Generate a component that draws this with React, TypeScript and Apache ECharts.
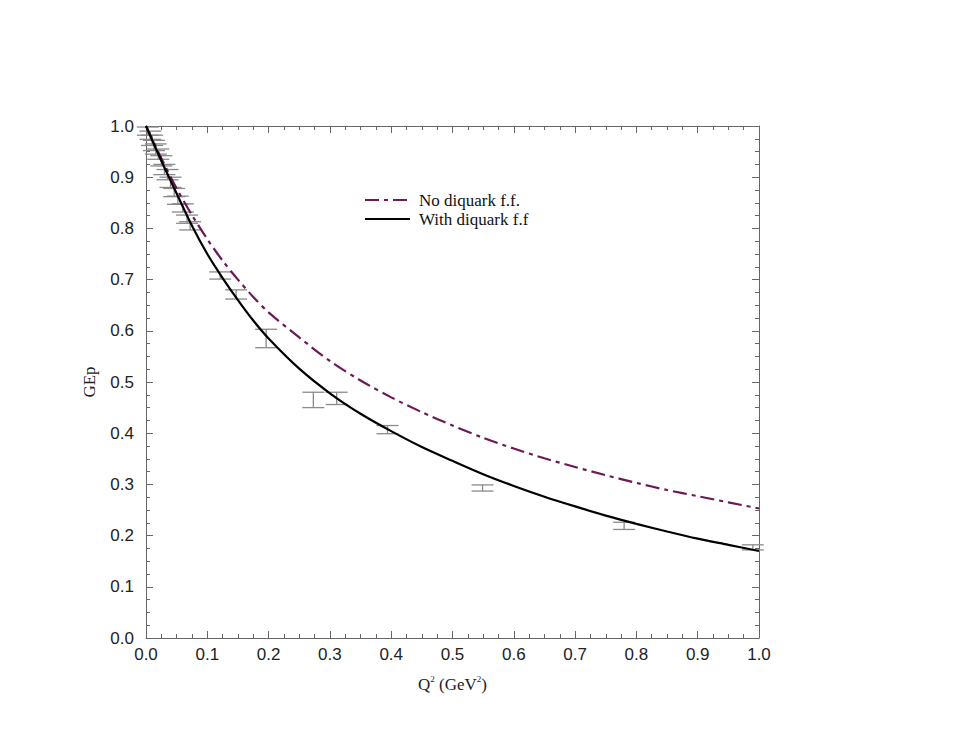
import React, { useEffect, useRef } from "react";
import * as echarts from "echarts";

const xTicks = ["0.0", "0.1", "0.2", "0.3", "0.4", "0.5", "0.6", "0.7", "0.8", "0.9", "1.0"];

// "No diquark f.f." curve (x, GEp)
const noDiquarkX = [0, 0.025, 0.05, 0.075, 0.1, 0.125, 0.15, 0.175, 0.2, 0.25, 0.3, 0.35, 0.4, 0.45, 0.5, 0.55, 0.6, 0.65, 0.7, 0.75, 0.8, 0.85, 0.9, 0.95, 1.0];
const noDiquarkY = [1.0, 0.937, 0.878, 0.826, 0.779, 0.737, 0.7, 0.666, 0.636, 0.587, 0.541, 0.503, 0.47, 0.441, 0.415, 0.391, 0.37, 0.351, 0.334, 0.318, 0.303, 0.289, 0.277, 0.265, 0.253];

// "With diquark f.f" curve
const withDiquarkX = [0, 0.025, 0.05, 0.075, 0.1, 0.125, 0.15, 0.175, 0.2, 0.25, 0.3, 0.35, 0.4, 0.45, 0.5, 0.55, 0.6, 0.65, 0.7, 0.75, 0.8, 0.85, 0.9, 0.95, 1.0];
const withDiquarkY = [1.0, 0.932, 0.868, 0.805, 0.75, 0.703, 0.66, 0.62, 0.585, 0.526, 0.478, 0.438, 0.404, 0.373, 0.346, 0.32, 0.297, 0.276, 0.257, 0.239, 0.223, 0.208, 0.194, 0.182, 0.17];

// experimental points: Q2, GEp, error
const dataQ2 = [0.003, 0.007, 0.01, 0.013, 0.016, 0.02, 0.025, 0.03, 0.035, 0.04, 0.046, 0.052, 0.06, 0.067, 0.072, 0.121, 0.147, 0.196, 0.273, 0.311, 0.394, 0.549, 0.78, 0.99];
const dataGEp = [0.99, 0.982, 0.972, 0.962, 0.955, 0.945, 0.932, 0.915, 0.905, 0.89, 0.87, 0.855, 0.84, 0.818, 0.805, 0.708, 0.671, 0.585, 0.465, 0.468, 0.407, 0.293, 0.219, 0.177];
const dataErr = [0.008, 0.008, 0.01, 0.01, 0.01, 0.01, 0.01, 0.01, 0.01, 0.01, 0.008, 0.008, 0.008, 0.008, 0.008, 0.007, 0.009, 0.018, 0.015, 0.012, 0.008, 0.006, 0.007, 0.005];

const PURPLE = "#6b1a55";
const AXIS = "#666";

export default function App() {
  const ref = useRef<HTMLDivElement>(null);
  useEffect(() => {
    if (!ref.current) return;
    const chart = echarts.init(ref.current, null, { renderer: "svg" });
    const errData = dataQ2.map((x, i) => [x, dataGEp[i] - dataErr[i], dataGEp[i] + dataErr[i]]);
    const commonTick = {
      axisLine: { show: true, onZero: false, lineStyle: { color: AXIS, width: 1 } },
      axisTick: { show: true, inside: true, length: 7, lineStyle: { color: AXIS } },
      minorTick: { show: true, splitNumber: 4, length: 4, lineStyle: { color: AXIS } },
      splitLine: { show: false },
    };
    chart.setOption({
      animation: false,
      grid: { left: 146, right: 210, top: 126, bottom: 111, containLabel: false },
      xAxis: [
        {
          type: "value", min: 0, max: 1, interval: 0.1, position: "bottom",
          ...commonTick,
          axisLabel: {
            formatter: (v: number) => xTicks[Math.round(v * 10)],
            fontFamily: "Liberation Sans, Arial, sans-serif", fontSize: 17, color: "#222", margin: 8,
          },
          name: "{a|Q}{s|2}{a| (GeV}{s|2}{a|)}",
          nameLocation: "middle", nameGap: 36,
          nameTextStyle: {
            rich: {
              a: { fontFamily: "Liberation Serif, Times New Roman, serif", fontSize: 17, color: "#222", lineHeight: 20 },
              s: { fontFamily: "Liberation Serif, Times New Roman, serif", fontSize: 9, color: "#222", padding: [0, 0, 10, 0], lineHeight: 20 },
            },
          },
        },
        {
          type: "value", min: 0, max: 1, interval: 0.1, position: "top",
          ...commonTick, axisLabel: { show: false },
        },
      ],
      yAxis: [
        {
          type: "value", min: 0, max: 1, interval: 0.1, position: "left",
          ...commonTick,
          axisLabel: {
            formatter: (v: number) => xTicks[Math.round(v * 10)],
            fontFamily: "Liberation Sans, Arial, sans-serif", fontSize: 17, color: "#222", margin: 12,
          },
          name: "GEp", nameLocation: "middle", nameGap: 48, nameRotate: 90,
          nameTextStyle: { fontFamily: "Liberation Serif, Times New Roman, serif", fontSize: 17, color: "#222" },
        },
        {
          type: "value", min: 0, max: 1, interval: 0.1, position: "right",
          ...commonTick, axisLabel: { show: false },
        },
      ],
      series: [
        {
          type: "custom",
          name: "data",
          xAxisIndex: 0, yAxisIndex: 0,
          data: errData,
          encode: { x: 0, y: [1, 2] },
          renderItem: (params: any, api: any) => {
            const x = api.value(0);
            const lo = api.coord([x, api.value(1)]);
            const hi = api.coord([x, api.value(2)]);
            const hw = 11;
            const style = { stroke: "#8a8a8a", lineWidth: 1.3 };
            return {
              type: "group",
              children: [
                { type: "line", shape: { x1: hi[0], y1: hi[1], x2: lo[0], y2: lo[1] }, style },
                { type: "line", shape: { x1: hi[0] - hw, y1: hi[1], x2: hi[0] + hw, y2: hi[1] }, style },
                { type: "line", shape: { x1: lo[0] - hw, y1: lo[1], x2: lo[0] + hw, y2: lo[1] }, style },
              ],
            };
          },
          z: 1,
        },
        {
          type: "line", name: "No diquark f.f.",
          data: noDiquarkX.map((x, i) => [x, noDiquarkY[i]]),
          smooth: 0.3, showSymbol: false, symbol: "none",
          lineStyle: { color: PURPLE, width: 2.2, type: [14, 5, 4, 5] },
          z: 3,
        },
        {
          type: "line", name: "With diquark f.f",
          data: withDiquarkX.map((x, i) => [x, withDiquarkY[i]]),
          smooth: 0.3, showSymbol: false, symbol: "none",
          lineStyle: { color: "#000", width: 2.2 },
          z: 4,
        },
      ],
      graphic: [
        { type: "line", shape: { x1: 365, y1: 200, x2: 410, y2: 200 }, style: { stroke: PURPLE, lineWidth: 2.2, lineDash: [14, 5, 4, 5] } },
        { type: "text", x: 419, y: 200, style: { text: "No diquark f.f.", font: "17px 'Liberation Serif', 'Times New Roman', serif", fill: "#111", verticalAlign: "middle" } },
        { type: "line", shape: { x1: 365, y1: 219, x2: 410, y2: 219 }, style: { stroke: "#000", lineWidth: 2.2 } },
        { type: "text", x: 419, y: 219, style: { text: "With diquark f.f", font: "17px 'Liberation Serif', 'Times New Roman', serif", fill: "#111", verticalAlign: "middle" } },
      ],
    });
    return () => chart.dispose();
  }, []);
  return <div ref={ref} style={{ width: 969, height: 749, position: "absolute", left: 0, top: 0 }} />;
}
